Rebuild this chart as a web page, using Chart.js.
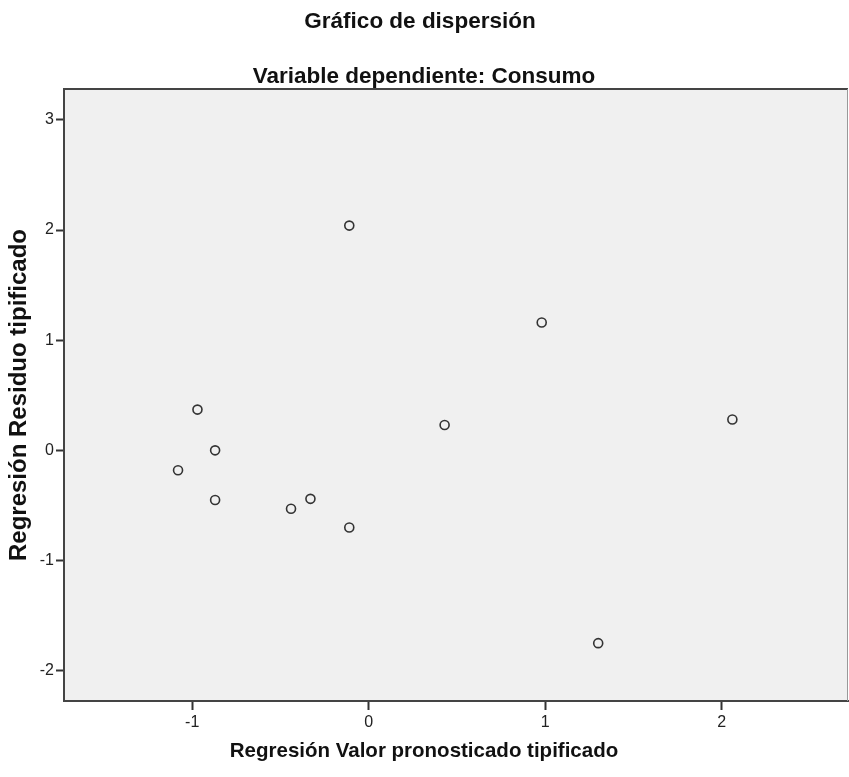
<!DOCTYPE html>
<html>
<head>
<meta charset="utf-8">
<title>Gráfico de dispersión</title>
<script src="https://cdn.jsdelivr.net/npm/chart.js@4/dist/chart.umd.min.js"></script>
<style>
  html, body { margin: 0; padding: 0; background: #fff; }
  #wrap { width: 849px; height: 777px; }
</style>
</head>
<body>
<div id="wrap"><canvas id="scatterChart" width="849" height="777"></canvas></div>
<script>
// Residuos tipificados frente a valores pronosticados tipificados
const predicted = [-1.08, -0.97, -0.87, -0.87, -0.44, -0.33, -0.11, -0.11, 0.43, 0.98, 1.30, 2.06];
const residual  = [-0.18, 0.37, 0.00, -0.45, -0.53, -0.44, 2.04, -0.70, 0.23, 1.16, -1.75, 0.28];

const xTicks = [-1, 0, 1, 2];
const yTicks = [-2, -1, 0, 1, 2, 3];

const titleText = 'Gráfico de dispersión';
const subtitleText = 'Variable dependiente: Consumo';
const xTitle = 'Regresión Valor pronosticado tipificado';
const yTitle = 'Regresión Residuo tipificado';

const FONT = '"Liberation Sans", Arial, sans-serif';

// frame, background and titles
const framePlugin = {
  id: 'frame',
  beforeDraw(chart) {
    const { ctx, chartArea: a } = chart;
    ctx.save();
    ctx.fillStyle = '#fff';
    ctx.fillRect(0, 0, chart.width, chart.height);
    ctx.fillStyle = '#f0f0f0';
    ctx.fillRect(a.left, a.top, a.right - a.left, a.bottom - a.top);
    ctx.restore();
  },
  afterDraw(chart) {
    const { ctx, chartArea: a } = chart;
    ctx.save();
    // top and right edges of the box
    ctx.strokeStyle = '#444';
    ctx.lineWidth = 2;
    ctx.beginPath();
    ctx.moveTo(a.left, a.top);
    ctx.lineTo(a.right, a.top);
    ctx.stroke();
    ctx.strokeStyle = '#999';
    ctx.lineWidth = 1;
    ctx.beginPath();
    ctx.moveTo(a.right - 0.5, a.top);
    ctx.lineTo(a.right - 0.5, a.bottom);
    ctx.stroke();

    ctx.fillStyle = '#111';
    ctx.textAlign = 'center';
    ctx.textBaseline = 'alphabetic';
    ctx.font = 'bold 22.5px ' + FONT;
    ctx.fillText(titleText, 420, 28);
    ctx.fillText(subtitleText, 424, 83);
    ctx.font = 'bold 20.5px ' + FONT;
    ctx.fillText(xTitle, 424, 757);

    ctx.font = 'bold 24px ' + FONT;
    ctx.translate(26, 395);
    ctx.rotate(-Math.PI / 2);
    ctx.fillText(yTitle, 0, 0);
    ctx.restore();
  }
};

new Chart(document.getElementById('scatterChart'), {
  type: 'scatter',
  data: {
    datasets: [{
      label: 'Residuos',
      data: predicted.map((x, i) => ({ x, y: residual[i] })),
      pointStyle: 'circle',
      pointRadius: 4.5,
      pointHoverRadius: 4.5,
      borderWidth: 1.6,
      borderColor: '#333',
      backgroundColor: 'rgba(0,0,0,0)'
    }]
  },
  options: {
    responsive: false,
    animation: false,
    devicePixelRatio: 1,
    layout: { autoPadding: false, padding: { top: 89, right: 1, left: 0, bottom: 0 } },
    plugins: {
      legend: { display: false },
      tooltip: { enabled: false }
    },
    scales: {
      x: {
        type: 'linear',
        min: -1.726,
        max: 2.715,
        afterBuildTicks: s => { s.ticks = xTicks.map(v => ({ value: v })); },
        afterFit: s => { s.height = 76; s.paddingLeft = 0; s.paddingRight = 0; },
        grid: { drawOnChartArea: false, drawTicks: true, tickLength: 9, tickColor: '#333', tickWidth: 2 },
        border: { display: true, color: '#444', width: 2 },
        ticks: { color: '#222', padding: 3, font: { family: FONT, size: 16 } }
      },
      y: {
        type: 'linear',
        min: -2.275,
        max: 3.28,
        afterBuildTicks: s => { s.ticks = yTicks.map(v => ({ value: v })); },
        afterFit: s => { s.width = 64; s.paddingTop = 0; s.paddingBottom = 0; },
        grid: { drawOnChartArea: false, drawTicks: true, tickLength: 8, tickColor: '#333', tickWidth: 2 },
        border: { display: true, color: '#444', width: 2 },
        ticks: { color: '#222', padding: 2, font: { family: FONT, size: 16 } }
      }
    }
  },
  plugins: [framePlugin]
});
</script>
</body>
</html>
